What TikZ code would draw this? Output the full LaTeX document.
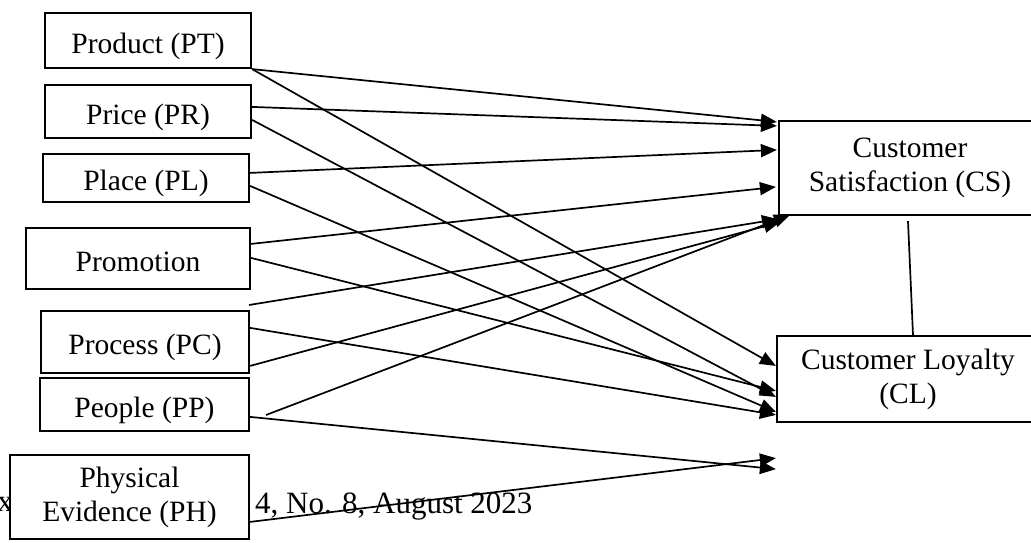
\documentclass[tikz,border=0pt]{standalone}
\usepackage{fontspec}
\setmainfont{Liberation Serif}
\usetikzlibrary{arrows.meta,calc}
\begin{document}
\begin{tikzpicture}[x=1pt,y=-1pt,
  box/.style={draw,line width=2.2pt,fill=white,inner sep=0pt,align=center,
    font=\fontsize{29.5}{34}\selectfont},
  oneline/.style={text height=25pt,text depth=0pt},
  conn/.style={line width=1.7pt,-{Triangle[length=16pt,width=13pt]}},
  plain/.style={line width=1.7pt},
  foot/.style={inner sep=0pt,font=\fontsize{31}{36}\selectfont}]
\useasboundingbox (0,0) rectangle (1031,542);
% background footer text (partly hidden)
\node[foot,anchor=base west] (ft) at (255,513) {4, No. 8, August 2023};
\node[foot,anchor=base east] (fx) at (13,511) {ax};
% boxes
\node[box,oneline,minimum width=206pt,minimum height=55pt] (PT) at (148,40.5) {Product (PT)};
\node[box,oneline,minimum width=206pt,minimum height=53pt] (PR) at (148,111.5) {Price (PR)};
\node[box,oneline,minimum width=206pt,minimum height=48pt] (PL) at (146,178) {Place (PL)};
\node[box,oneline,minimum width=224pt,minimum height=61pt] (PM) at (138,258.5) {Promotion};
\node[box,oneline,minimum width=208pt,minimum height=62pt] (PC) at (145,342) {Process (PC)};
\node[box,oneline,minimum width=209pt,minimum height=53pt] (PP) at (144.5,404.5) {People (PP)};
\node[box,minimum width=239pt,minimum height=84pt] (PH) at (129.5,497) {Physical\\Evidence (PH)};
\node[box,minimum width=262pt,minimum height=94pt] (CS) at (910,168) {Customer\\Satisfaction (CS)};
\node[box,minimum width=262pt,minimum height=86pt] (CL) at (908,379) {Customer Loyalty\\(CL)};
% free line starts
\coordinate (f1) at (249,305);
\coordinate (f2) at (266,415);
% to Customer Satisfaction
\draw[conn] (PT.south east) -- ($(CS.north west)+(-1,2)$);
\draw[conn] ($(PR.north east)+(0,23)$) -- ($(CS.north west)+(-1,6)$);
\draw[conn] ($(PL.north east)+(0,20)$) -- ($(CS.north west)+(-1,30)$);
\draw[conn] ($(PM.north east)+(0,17)$) -- ($(CS.north west)+(-2,67)$);
\draw[conn] (f1) -- ($(CS.south west)+(0,3)$);
\draw[conn] ($(PC.north east)+(0,56)$) -- ($(CS.south west)+(2,6)$);
\draw[conn] (f2) -- ($(CS.south west)+(12,-1)$);
% to Customer Loyalty
\draw[conn] (PT.south east) -- ($(CL.north west)+(0,31)$);
\draw[conn] ($(PR.north east)+(0,36)$) -- ($(CL.north west)+(0,62)$);
\draw[conn] ($(PL.north east)+(0,33)$) -- ($(CL.north west)+(0,77)$);
\draw[conn] ($(PM.north east)+(0,31)$) -- ($(CL.north west)+(0,56)$);
\draw[conn] ($(PC.north east)+(0,18)$) -- ($(CL.north west)+(0,80)$);
% below Customer Loyalty
\draw[conn] ($(PP.north east)+(0,40)$) -- ($(CL.south west)+(0,46)$);
\draw[conn] ($(PH.north east)+(0,68)$) -- ($(CL.south west)+(0,35)$);
% CS -- CL
\draw[plain] ($(CS.south)+(-2,5)$) -- ($(CL.north)+(5,0)$);
\end{tikzpicture}
\end{document}
